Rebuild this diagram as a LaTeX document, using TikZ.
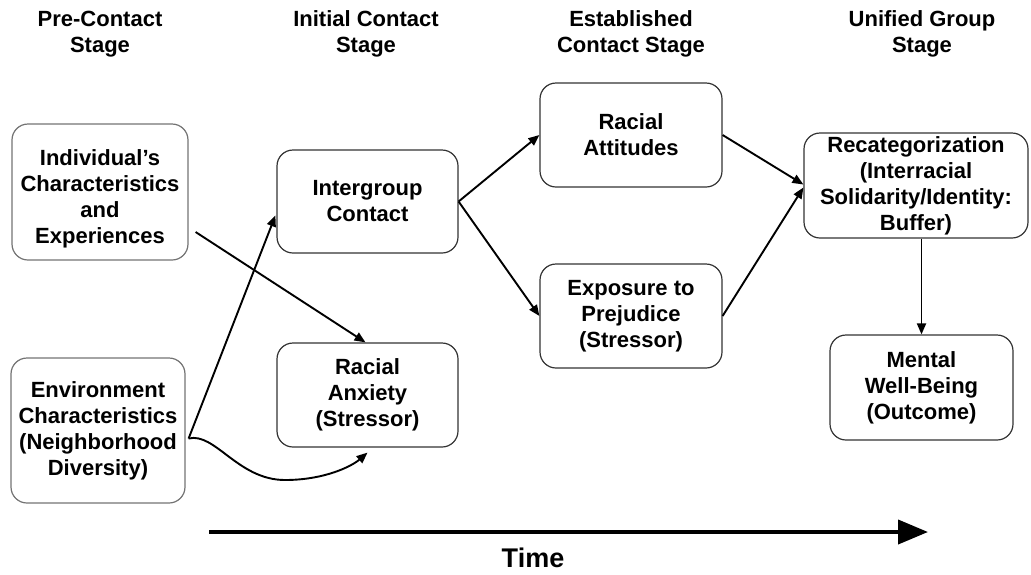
\documentclass[tikz,border=0pt]{standalone}
\usepackage{fontspec}
\setmainfont{Liberation Sans}
\usetikzlibrary{arrows.meta,calc}
\begin{document}
\begin{tikzpicture}[x=1pt,y=-1pt,
  txt/.style={font=\fontsize{22}{26}\selectfont\bfseries, align=center, inner sep=0pt},
  stagebox/.style={txt, draw=black!80, line width=1.2pt, rounded corners=16pt},
  lightbox/.style={stagebox, draw=black!55},
  conn/.style={line width=1.9pt, -{Triangle[length=11pt,width=9pt]}},
  timearrow/.style={line width=4pt, -{Triangle[length=30pt,width=24pt]}}
]
\useasboundingbox (0,0) rectangle (1031,574);
% headers
\node[txt] (h1) at (100,34) {Pre-Contact\\Stage};
\node[txt] (h2) at (366,34) {Initial Contact\\Stage};
\node[txt] (h3) at (631,34) {Established\\Contact Stage};
\node[txt] (h4) at (922,34) {Unified Group\\Stage};
% boxes
\node[lightbox, minimum width=176pt, minimum height=136pt] (ind) at (100,192) {};
\node[txt] (indtxt) at (100,199) {Individual's\\Characteristics\\and\\Experiences};
\node[lightbox, minimum width=174pt, minimum height=145pt] (env) at (98,430.5) {Environment\\Characteristics\\(Neighborhood\\Diversity)};
\node[stagebox, minimum width=181pt, minimum height=103pt] (ic) at (367.5,201.5) {Intergroup\\Contact};
\node[stagebox, minimum width=181pt, minimum height=104pt] (anx) at (367.5,395) {Racial\\Anxiety\\(Stressor)};
\node[stagebox, minimum width=182pt, minimum height=104pt] (ra) at (631,135) {Racial\\Attitudes};
\node[stagebox, minimum width=182pt, minimum height=104pt] (exp) at (631,316) {Exposure to\\Prejudice\\(Stressor)};
\node[stagebox, minimum width=224pt, minimum height=105pt] (rec) at (916,185.5) {Recategorization\\(Interracial\\Solidarity/Identity:\\Buffer)};
\node[stagebox, minimum width=183pt, minimum height=105pt] (mw) at (921.5,387.5) {Mental\\Well-Being\\(Outcome)};
% connectors
\draw[conn] ([shift={(7,40)}]ind.east) -- ([xshift=-2pt]anx.north);
\draw[conn] ([shift={(3,8)}]env.east) -- ([shift={(-1,14)}]ic.west);
\draw[conn] ([shift={(3,8)}]env.east) .. controls (215,432) and (238,480) .. (285,480) .. controls (325,480) and (352,466) .. ([shift={(0,5)}]anx.south);
\draw[conn] (ic.east) -- (ra.west);
\draw[conn] (ic.east) -- (exp.west);
\draw[conn] (ra.east) -- ([yshift=1pt]rec.west);
\draw[conn] (exp.east) -- ([yshift=-2pt]rec.west);
\draw[conn] (rec.south -| mw.north) -- (mw.north);
% time
\coordinate (ts) at (209,532);
\coordinate (te) at (928,532);
\draw[timearrow] (ts) -- (te);
\node[font=\fontsize{27}{30}\selectfont\bfseries, inner sep=0pt] (time) at (533,558) {Time};
\end{tikzpicture}
\end{document}
